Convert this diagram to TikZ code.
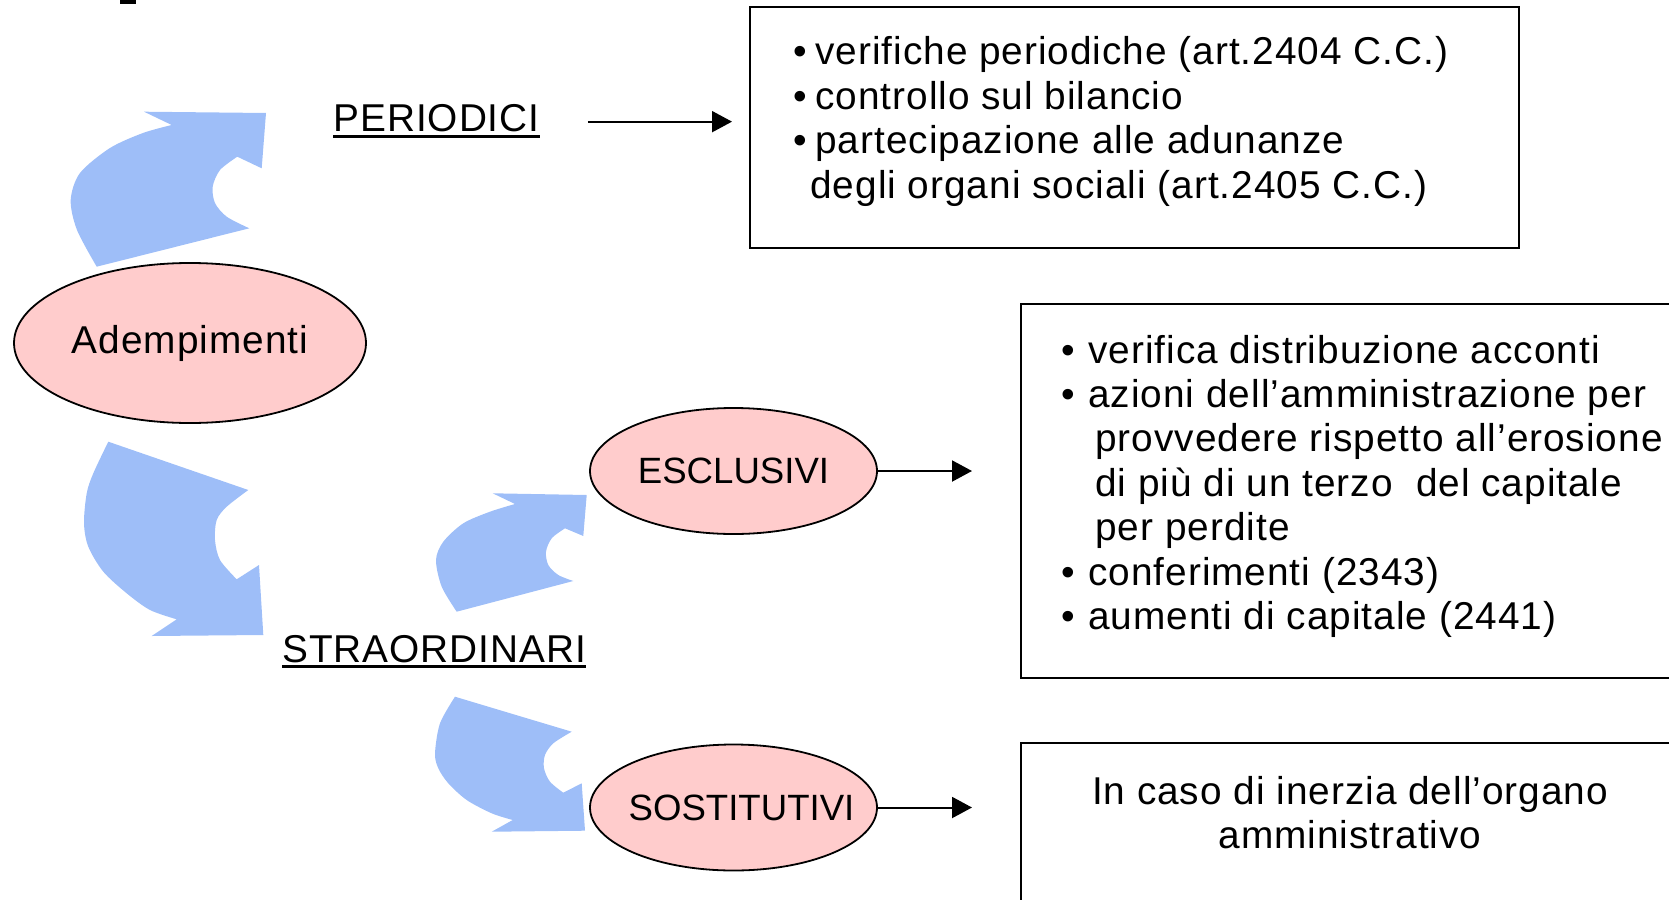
\documentclass[tikz,border=0pt]{standalone}
\usepackage{fontspec}
\setmainfont{Liberation Sans}[LetterSpace=2.5]
\newfontfamily\ovalfont{Liberation Sans}
\usetikzlibrary{shapes.geometric,arrows.meta}
\definecolor{ovalpink}{RGB}{255,204,204}
\definecolor{arrowblue}{RGB}{158,190,248}
\newcommand{\ultext}[1]{\setbox0\hbox{#1}\rlap{\rule[-3.2pt]{\wd0}{1.5pt}}\box0}
\newcommand{\bul}[1][11pt]{\makebox[#1][l]{•}}
\begin{document}
\begin{tikzpicture}[x=0.5pt, y=-0.5pt,
    every node/.style={font=\fontsize{19.4pt}{22.2pt}\selectfont},
    oval/.style={ellipse, draw, line width=0.9pt, fill=ovalpink, minimum width=143.5pt, minimum height=63pt, inner sep=0pt},
    narrow/.style={font=\ovalfont\fontsize{18.3pt}{22.2pt}\selectfont},
    kind/.style={inner sep=0pt, anchor=base west},
    panel/.style={draw, line width=1pt, inner sep=0pt},
    items/.style={inner sep=0pt},
    pointer/.style={line width=1pt, -{Triangle[length=10pt,width=10.5pt]}},
    swoosh/.style={fill=arrowblue}]
    \useasboundingbox (0,0) rectangle (1669,899);
    \fill (120,0) rectangle (136,4);
    \fill[swoosh] plot[smooth] coordinates {(96.7,266.7) (77,230) (70.7,200) (80,173) (110,148) (143,133) (171.7,125)} -- (144,111.7) -- (266,113) -- (261.7,168.3) -- (237.3,156.7) -- plot[smooth] coordinates {(237.3,156.7) (220,170) (212.7,186.7) (215,203) (226.7,216.7) (249.3,228.3)} -- cycle;
    \fill[swoosh] (108.3,441.7) -- (248.3,490) -- plot[smooth] coordinates {(248.3,490) (226.7,506.7) (216.7,520) (215,540) (220,560) (236.7,579.3)} -- (259,565) -- (263.3,635) -- (151.7,636) -- (176.7,619.3) -- plot[smooth] coordinates {(176.7,619.3) (150,610) (126.7,593.3) (103.3,571.7) (88.3,546.7) (84,523.3) (86.7,493.3) (93.3,473.3) (108.3,441.7)} -- cycle;
    \fill[swoosh] plot[smooth] coordinates {(456.7,611.7) (441.7,586.7) (436,560) (443.3,541.7) (463.3,523.3) (490,511.7) (515,504)} -- (492.7,493.3) -- (586.7,495) -- (583.3,536) -- (565,528.3) -- plot[smooth] coordinates {(565,528.3) (551.7,538.3) (546,551.7) (548.3,565) (558.3,575) (573.3,581)} -- cycle;
    \fill[swoosh] (455,696.7) -- (571.7,731.7) -- plot[smooth] coordinates {(571.7,731.7) (553.3,743.3) (545,755) (544,768.3) (550,781.7) (563.3,792.7)} -- (581.7,783.3) -- (585,830.7) -- (491.7,831.7) -- (512.7,820) -- plot[smooth] coordinates {(512.7,820) (491.7,813.3) (466.7,800) (448.3,783.3) (438.3,768.3) (435,753.3) (440,723.3) (455,696.7)} -- cycle;
    \node [oval, minimum width=176pt, minimum height=80pt] (adem) at (190,343) {\makebox[0pt]{Adempimenti}};
    \node [oval, narrow] (escl) at (733.5,471) {\makebox[0pt]{ESCLUSIVI}};
    \node [oval, narrow] (sost) at (733.5,807.5) {\makebox[0pt]{\hspace{8pt}SOSTITUTIVI}};
    \node [kind] (per) at (333,132) {\ultext{PERIODICI}};
    \node [kind] (stra) at (282,662) {\ultext{STRAORDINARI}};
    \node [panel, minimum width=384.5pt, minimum height=120.5pt] (topbox) at (1134.5,127.5) {};
    \node [panel, minimum width=329pt, minimum height=187pt] (midbox) at (1350,491) {};
    \node [panel, minimum width=329pt, minimum height=108.5pt] (botbox) at (1350,851.5) {};
    \node [items, anchor=base west] (topitems) at (793,65) {\begin{tabular}[t]{@{}l@{}}\bul verifiche periodiche (art.2404 C.C.)\\ \bul controllo sul bilancio\\ \bul partecipazione alle adunanze\\ \hspace*{8.5pt}degli organi sociali (art.2405 C.C.)\end{tabular}};
    \node [items, anchor=base west] (miditems) at (1061,363) {\begin{tabular}[t]{@{}l@{}}\bul[13.5pt]verifica distribuzione acconti\\ \bul[13.5pt]azioni dell’amministrazione per\\ \hspace*{17pt}provvedere rispetto all’erosione\\ \hspace*{17pt}di più di un terzo \ del capitale\\ \hspace*{17pt}per perdite\\ \bul[13.5pt]conferimenti (2343)\\ \bul[13.5pt]aumenti di capitale (2441)\end{tabular}};
    \node [items, anchor=base] (botitems) at (1350,804) {\begin{tabular}[t]{@{}c@{}}In caso di inerzia dell’organo\\ amministrativo\end{tabular}};
    \draw[pointer, shorten <=24pt, shorten >=8.5pt] (per.east) -- (per.east -| topbox.west);
    \draw[pointer, shorten >=24pt] (escl.east) -- (escl.east -| midbox.west);
    \draw[pointer, shorten >=24pt] (sost.east) -- (sost.east -| botbox.west);
\end{tikzpicture}
\end{document}
